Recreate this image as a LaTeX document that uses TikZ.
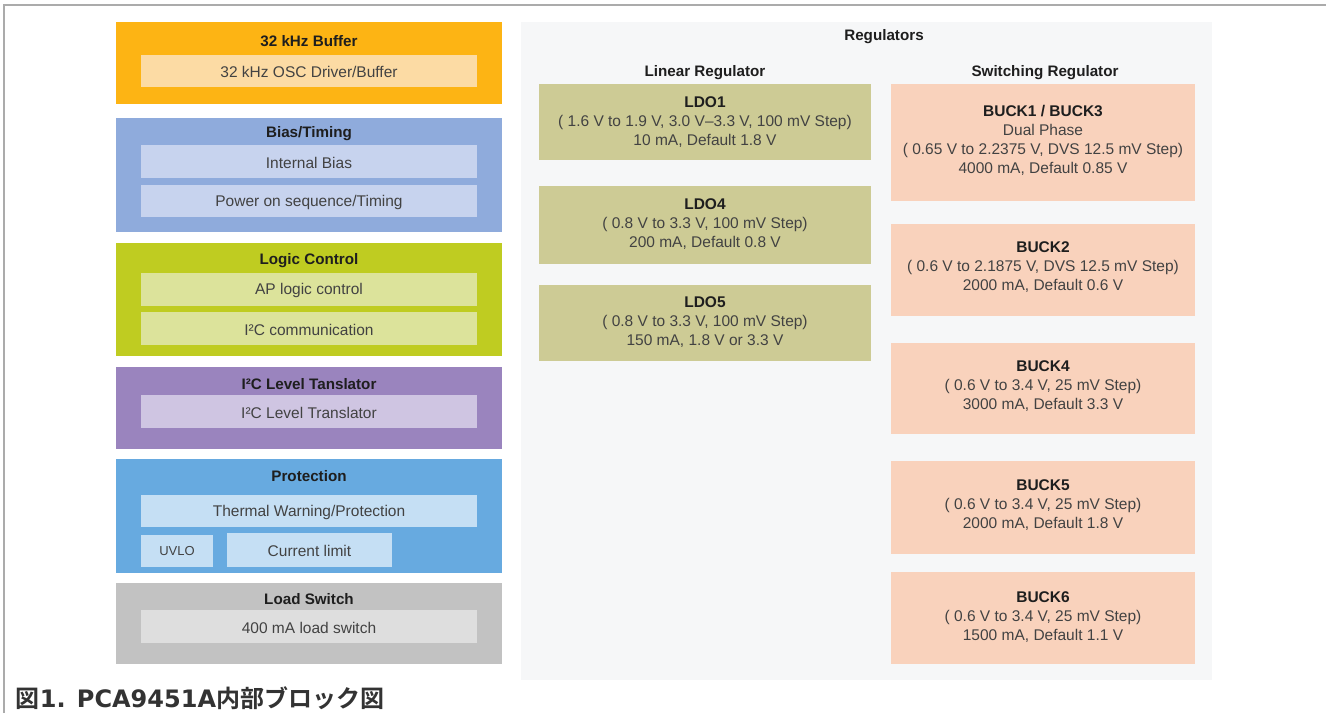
\documentclass[tikz,border=0pt]{standalone}
\usepackage{fontspec}
\setmainfont{Liberation Sans}
\newfontfamily\cjkfont{Noto Sans CJK JP}[BoldFont={* Bold}]
\newfontfamily\capfont{DejaVu Sans}
\newcommand\myBody{\fontsize{15.5}{19}\selectfont}
\newcommand\mySmall{\fontsize{13}{15}\selectfont}
\newcommand\myTtl{\fontsize{15.2}{19}\selectfont\bfseries}
\definecolor{framegray}{HTML}{ABABAB}
\definecolor{orO}{HTML}{FDB414}
\definecolor{orI}{HTML}{FCDBA4}
\definecolor{biO}{HTML}{8FABDC}
\definecolor{biI}{HTML}{C7D3EE}
\definecolor{loO}{HTML}{BFCC21}
\definecolor{loI}{HTML}{DCE39B}
\definecolor{puO}{HTML}{9A84BE}
\definecolor{puI}{HTML}{CFC5E2}
\definecolor{prO}{HTML}{67AAE0}
\definecolor{prI}{HTML}{C5DFF4}
\definecolor{lsO}{HTML}{C2C2C2}
\definecolor{lsI}{HTML}{DEDEDE}
\definecolor{regbg}{HTML}{F6F7F8}
\definecolor{ldoc}{HTML}{CDCB95}
\definecolor{buckc}{HTML}{F9D2BC}
\definecolor{txtc}{HTML}{424242}
\definecolor{ttlc}{HTML}{1E1E1E}
\definecolor{capc}{HTML}{333333}
\begin{document}
\begin{tikzpicture}[x=1pt,y=-1pt,
  every node/.style={inner sep=0pt, outer sep=0pt},
  blk/.style={rectangle, draw=none, align=center, font=\myBody, text=txtc},
  outerblk/.style={blk, minimum width=386pt},
  innerblk/.style={blk, minimum width=336pt, minimum height=33pt},
  ttl/.style={font=\myTtl, text=ttlc},
  ldo/.style={blk, fill=ldoc, minimum width=332pt},
  buck/.style={blk, fill=buckc, minimum width=304pt}]
\useasboundingbox (0,0) rectangle (1326,713);
\fill[white] (0,0) rectangle (1326,713);
\draw[framegray, line width=1.5pt] (4,713) -- (4,5) -- (1326,5);

% left column
\node[outerblk, fill=orO, minimum height=82pt] (buf) at (309,63) {};
\node[ttl] (bufT) at (309,41) {32 kHz Buffer};
\node[innerblk, fill=orI, minimum height=32pt] (osc) at (309,71) {};
\node[blk] (oscT) at (309,72) {32 kHz OSC Driver/Buffer};

\node[outerblk, fill=biO, minimum height=114pt] (bias) at (309,175) {};
\node[ttl] (biasT) at (309,134) {Bias/Timing};
\node[innerblk, fill=biI] (ibias) at (309,161.5) {};
\node[blk] (ibiasT) at (309,162.5) {Internal Bias};
\node[innerblk, fill=biI, minimum height=32pt] (pos) at (309,201) {};
\node[blk] (posT) at (309,202) {Power on sequence/Timing};

\node[outerblk, fill=loO, minimum height=113pt] (logic) at (309,299.5) {};
\node[ttl] (logicT) at (309,261) {Logic Control};
\node[innerblk, fill=loI] (ap) at (309,289.5) {};
\node[blk] (apT) at (309,290.5) {AP logic control};
\node[innerblk, fill=loI] (i2cc) at (309,328.5) {};
\node[blk] (i2ccT) at (309,329.5) {I²C communication};

\node[outerblk, fill=puO, minimum height=82pt] (lvl) at (309,408) {};
\node[ttl] (lvlT) at (309,384) {I²C Level Tanslator};
\node[innerblk, fill=puI] (lvlI) at (309,411.5) {};
\node[blk] (lvlIT) at (309,412.5) {I²C Level Translator};

\node[outerblk, fill=prO, minimum height=114pt] (prot) at (309,516) {};
\node[ttl] (protT) at (309,476) {Protection};
\node[innerblk, fill=prI, minimum height=32pt] (therm) at (309,511) {};
\node[blk] (thermT) at (309,512) {Thermal Warning/Protection};
\node[blk, fill=prI, font=\mySmall, minimum width=72pt, minimum height=32pt] (uvlo) at (177,551) {UVLO};
\node[blk, fill=prI, minimum width=165pt, minimum height=34pt] (curr) at (309.5,550) {};
\node[blk] (currT) at (309.5,551) {Current limit};

\node[outerblk, fill=lsO, minimum height=81pt] (load) at (309,623.5) {};
\node[ttl] (loadT) at (309,599) {Load Switch};
\node[innerblk, fill=lsI] (lsw) at (309,626.5) {};
\node[blk] (lswT) at (309,627.5) {400 mA load switch};

% regulators panel
\node[rectangle, fill=regbg, minimum width=691pt, minimum height=658pt] (reg) at (866.5,351) {};
\node[ttl] (regT) at (884,37) {Regulators};
\node[ttl] (linT) at (705,73) {Linear Regulator};
\node[ttl] (swT) at (1045,73) {Switching Regulator};

\node[ldo, minimum height=76pt] (ldo1) at (705,122) {};
\node[blk] (ldo1t) at (705,122.5) {\textcolor{ttlc}{\bfseries LDO1}\\( 1.6 V to 1.9 V, 3.0 V–3.3 V, 100 mV Step)\\10 mA, Default 1.8 V};
\node[ldo, minimum height=78pt] (ldo4) at (705,225) {};
\node[blk] (ldo4t) at (705,224.5) {\textcolor{ttlc}{\bfseries LDO4}\\( 0.8 V to 3.3 V, 100 mV Step)\\200 mA, Default 0.8 V};
\node[ldo, minimum height=76pt] (ldo5) at (705,323) {};
\node[blk] (ldo5t) at (705,322.5) {\textcolor{ttlc}{\bfseries LDO5}\\( 0.8 V to 3.3 V, 100 mV Step)\\150 mA, 1.8 V or 3.3 V};

\node[buck, minimum height=117pt] (b13) at (1043,142.5) {};
\node[blk] (b13t) at (1043,140.5) {\textcolor{ttlc}{\bfseries BUCK1 / BUCK3}\\Dual Phase\\( 0.65 V to 2.2375 V, DVS 12.5 mV Step)\\4000 mA, Default 0.85 V};
\node[buck, minimum height=92pt] (b2) at (1043,270) {};
\node[blk] (b2t) at (1043,267.5) {\textcolor{ttlc}{\bfseries BUCK2}\\( 0.6 V to 2.1875 V, DVS 12.5 mV Step)\\2000 mA, Default 0.6 V};
\node[buck, minimum height=91pt] (b4) at (1043,388.5) {};
\node[blk] (b4t) at (1043,386.5) {\textcolor{ttlc}{\bfseries BUCK4}\\( 0.6 V to 3.4 V, 25 mV Step)\\3000 mA, Default 3.3 V};
\node[buck, minimum height=93pt] (b5) at (1043,507.5) {};
\node[blk] (b5t) at (1043,505.5) {\textcolor{ttlc}{\bfseries BUCK5}\\( 0.6 V to 3.4 V, 25 mV Step)\\2000 mA, Default 1.8 V};
\node[buck, minimum height=92pt] (b6) at (1043,618) {};
\node[blk] (b6t) at (1043,617.5) {\textcolor{ttlc}{\bfseries BUCK6}\\( 0.6 V to 3.4 V, 25 mV Step)\\1500 mA, Default 1.1 V};

% caption
\node[anchor=base west, text=capc] (cap) at (16,707) {\fontsize{24}{26}\selectfont{\cjkfont\bfseries 図}{\capfont\bfseries 1. PCA9451A}{\cjkfont\bfseries 内部ブロック図}};
\end{tikzpicture}
\end{document}
